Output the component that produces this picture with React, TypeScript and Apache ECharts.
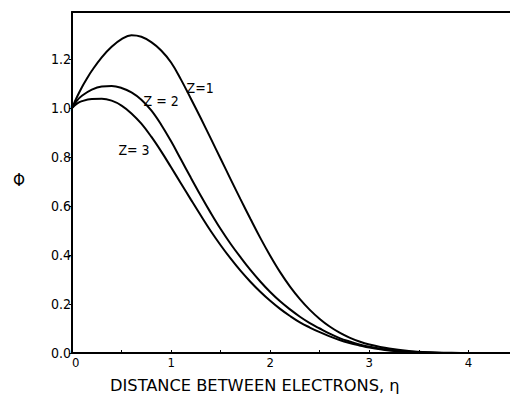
import React, { useEffect, useRef } from "react";
import * as echarts from "echarts";

const etaZ1 = [0, 0.05, 0.1, 0.15, 0.2, 0.3, 0.4, 0.5, 0.6, 0.7, 0.8, 0.9, 1.0, 1.1, 1.2, 1.3, 1.4, 1.5, 1.6, 1.7, 1.8, 1.9, 2.0, 2.1, 2.2, 2.3, 2.4, 2.5, 2.6, 2.7, 2.8, 2.9, 3.0, 3.2, 3.4, 3.6, 3.8, 4.0, 4.42];
const phiZ1 = [1.0, 1.045, 1.085, 1.12, 1.152, 1.207, 1.25, 1.281, 1.297, 1.291, 1.269, 1.235, 1.186, 1.116, 1.038, 0.958, 0.876, 0.793, 0.71, 0.628, 0.548, 0.47, 0.397, 0.33, 0.271, 0.22, 0.176, 0.139, 0.108, 0.083, 0.063, 0.047, 0.035, 0.018, 0.008, 0.003, 0.001, 0, 0];

const etaZ2 = [0, 0.05, 0.1, 0.2, 0.3, 0.4, 0.5, 0.6, 0.7, 0.8, 0.9, 1.0, 1.1, 1.2, 1.3, 1.4, 1.5, 1.6, 1.7, 1.8, 1.9, 2.0, 2.1, 2.2, 2.3, 2.4, 2.5, 2.6, 2.7, 2.8, 2.9, 3.0, 3.2, 3.4, 3.6, 3.8, 4.0, 4.42];
const phiZ2 = [1.0, 1.03, 1.05, 1.075, 1.088, 1.09, 1.082, 1.064, 1.034, 0.99, 0.932, 0.864, 0.79, 0.715, 0.642, 0.572, 0.506, 0.446, 0.391, 0.339, 0.292, 0.249, 0.211, 0.178, 0.148, 0.122, 0.1, 0.079, 0.061, 0.047, 0.035, 0.026, 0.012, 0.005, 0.002, 0, 0, 0];

const etaZ3 = [0, 0.05, 0.1, 0.2, 0.3, 0.4, 0.5, 0.6, 0.7, 0.8, 0.9, 1.0, 1.1, 1.2, 1.3, 1.4, 1.5, 1.6, 1.7, 1.8, 1.9, 2.0, 2.1, 2.2, 2.3, 2.4, 2.5, 2.6, 2.7, 2.8, 2.9, 3.0, 3.2, 3.4, 3.6, 3.8, 4.0, 4.42];
const phiZ3 = [1.0, 1.018, 1.028, 1.037, 1.038, 1.03, 1.01, 0.978, 0.936, 0.883, 0.823, 0.758, 0.692, 0.626, 0.561, 0.498, 0.44, 0.386, 0.336, 0.291, 0.25, 0.213, 0.18, 0.151, 0.125, 0.104, 0.085, 0.068, 0.053, 0.041, 0.031, 0.022, 0.01, 0.004, 0.001, 0, 0, 0];

const curveLabels = ["Z=1", "Z = 2", "Z= 3"];
const labelCoords = [[1.293, 1.082], [0.9, 1.029], [0.626, 0.829]];

const xTitle = "DISTANCE BETWEEN ELECTRONS, η";
const yTitle = "Φ";

const FONT = "'DejaVu Sans Condensed', 'Liberation Sans Narrow', 'DejaVu Sans', sans-serif";

function pairs(xs: number[], ys: number[]) {
  return xs.map((x, i) => [x, ys[i]]);
}

export default function App() {
  const ref = useRef<HTMLDivElement>(null);
  useEffect(() => {
    if (!ref.current) return;
    const chart = echarts.init(ref.current, undefined, { renderer: "svg" });
    const series = [
      pairs(etaZ1, phiZ1),
      pairs(etaZ2, phiZ2),
      pairs(etaZ3, phiZ3),
    ].map((d, i) => ({
      type: "line",
      data: d,
      showSymbol: false,
      smooth: 0.4,
      lineStyle: { color: "#000", width: 2 },
      silent: true,
      markPoint: {
        symbol: "circle",
        symbolSize: 1,
        itemStyle: { color: "rgba(0,0,0,0)" },
        silent: true,
        data: [
          {
            coord: labelCoords[i],
            label: {
              show: true,
              position: "inside",
              formatter: curveLabels[i],
              color: "#000",
              fontFamily: FONT,
              fontSize: 14,
            },
          },
        ],
      },
    }));
    chart.setOption({
      animation: false,
      backgroundColor: "#fff",
      grid: { left: 72, right: 0, top: 12, bottom: 45, containLabel: false },
      xAxis: [
        {
          type: "value",
          min: 0,
          max: 4.42,
          interval: 0.5,
          position: "bottom",
          axisLine: { show: true, onZero: false, lineStyle: { color: "#000", width: 2 } },
          axisTick: { show: true, inside: true, length: 3, lineStyle: { color: "#000", width: 1 } },
          axisLabel: {
            color: "#000",
            fontFamily: FONT,
            fontSize: 13,
            margin: 3,
            showMaxLabel: false,
            alignMinLabel: "left",
            formatter: (v: number) => (Math.abs(v - Math.round(v)) < 1e-6 ? String(Math.round(v)) : ""),
          },
          splitLine: { show: false },
        },
        {
          type: "value",
          min: 0,
          max: 4.42,
          position: "top",
          axisLine: { show: true, onZero: false, lineStyle: { color: "#000", width: 2 } },
          axisTick: { show: false },
          axisLabel: { show: false },
          splitLine: { show: false },
        },
      ],
      yAxis: {
        type: "value",
        min: 0,
        max: 1.392,
        interval: 0.2,
        axisLine: { show: true, onZero: false, lineStyle: { color: "#000", width: 2 } },
        axisTick: { show: true, inside: false, length: 3, lineStyle: { color: "#000", width: 1 } },
        axisLabel: {
          color: "#000",
          fontFamily: FONT,
          fontSize: 14,
          margin: 1,
          showMaxLabel: false,
          formatter: (v: number) => v.toFixed(1),
        },
        splitLine: { show: false },
      },
      graphic: [
        {
          type: "text",
          left: 110,
          top: 377,
          scaleX: 1.13,
          style: { text: xTitle, fill: "#000", font: `16px ${FONT}` },
        },
        {
          type: "text",
          left: 13,
          top: 171,
          style: { text: yTitle, fill: "#000", font: `17px ${FONT}` },
        },
      ],
      series,
    });
    return () => chart.dispose();
  }, []);
  return (
    <div
      ref={ref}
      style={{ position: "absolute", left: 0, top: 0, width: 510, height: 398 }}
    />
  );
}
